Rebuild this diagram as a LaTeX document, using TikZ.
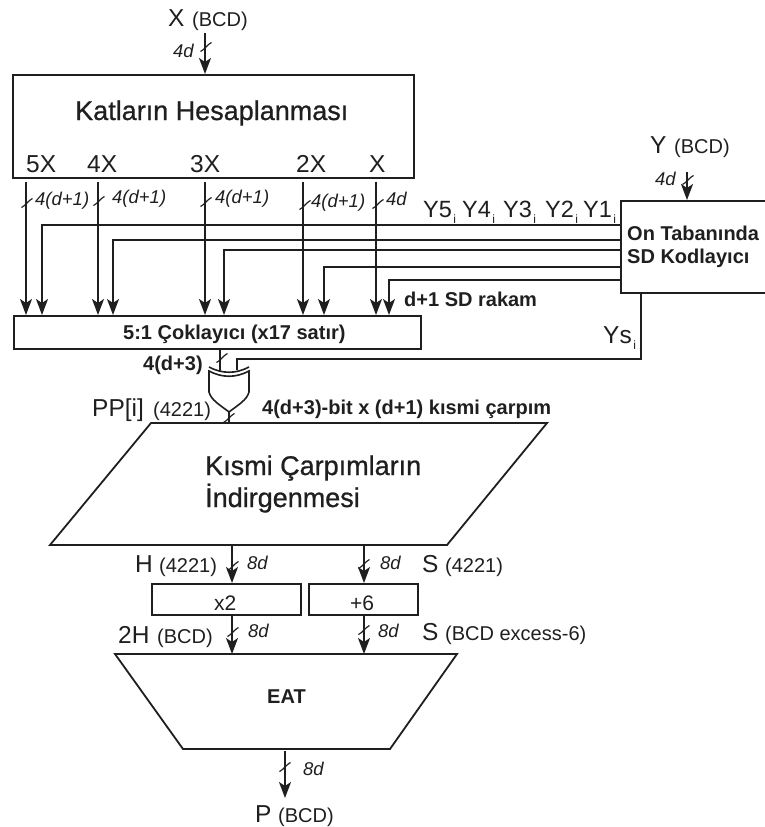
\documentclass[tikz,border=0pt]{standalone}
\usepackage{fontspec}
\setmainfont{Liberation Sans}
\newfontfamily\medfont[FakeBold=0.8]{Liberation Sans}
\usetikzlibrary{arrows.meta}
\definecolor{ink}{gray}{0.12}
\newcommand{\sz}[1]{\fontsize{#1}{#1}\selectfont}
\newcommand{\subi}{\kern1.5pt\raisebox{-6pt}{\sz{12}i}}
\newcommand{\busmark}[2]{\draw[mark line] ([shift={(-5.5,4.5)}]#1,#2) .. controls ([shift={(-2,3)}]#1,#2) and ([shift={(2,-3)}]#1,#2) .. ([shift={(5.5,-4.5)}]#1,#2);}
\tikzset{
  wire/.style={draw=ink,line width=1.7pt},
  arr/.style={wire,-{Stealth[length=16pt,width=12pt,inset=4pt]}},
  block/.style={draw=ink,line width=1.8pt,fill=white,inner sep=0pt},
  mark line/.style={draw=ink,line width=1.2pt},
  lab/.style={text=ink,inner sep=0pt,anchor=base west},
  busl/.style={lab,font=\sz{18.5}\itshape},
  sig/.style={lab,font=\sz{24.5}},
  ysig/.style={lab,font=\sz{23.5}},
  par/.style={lab,font=\sz{20}},
  boldl/.style={lab,font=\sz{20}\bfseries}
}
\begin{document}
\begin{tikzpicture}[x=1pt,y=-1pt]
\useasboundingbox (0,0) rectangle (765,827);
% blocks
\node[block,minimum width=401pt,minimum height=103pt,anchor=north west] (top) at (12,74) {};
\node[block,minimum width=407pt,minimum height=33pt,anchor=north west] (mux) at (13,315) {};
\node[block,minimum width=160pt,minimum height=92pt,anchor=north west] (coder) at (620,200) {};
\node[block,minimum width=149pt,minimum height=31pt,anchor=north west] (xtwo) at (151,583) {};
\node[block,minimum width=109pt,minimum height=31pt,anchor=north west] (psix) at (308,583) {};
\draw[block] (151,423) -- (547,423) -- (447,545) -- (50,545) -- cycle;
\draw[block] (115,654) -- (457,654) -- (390,749) -- (183,749) -- cycle;
\coordinate (pptop) at (229,423);
\coordinate (ppbot) at (232,545);
\coordinate (pptwo) at (364,545);
\coordinate (eatA) at (232,654);
\coordinate (eatB) at (364,654);
\coordinate (eatC) at (285,751);
% main texts
\node[lab,font=\sz{27}\medfont] (t1) at (75,120) {Katların Hesaplanması};
\node[lab,font=\sz{27}\medfont] (t2) at (205,475) {Kısmi Çarpımların};
\node[lab,font=\sz{27}\medfont] (t2b) at (205,507) {İndirgenmesi};
\node[lab,font=\sz{20}\bfseries] (t3) at (123,339) {5:1 Çoklayıcı (x17 satır)};
\node[lab,font=\sz{20}\bfseries] (t4a) at (627,240) {On Tabanında};
\node[lab,font=\sz{20}\bfseries] (t4b) at (627,263) {SD Kodlayıcı};
\node[lab,font=\sz{21}] (t5) at (214,610) {x2};
\node[lab,font=\sz{21}] (t6) at (350,610) {+6};
\node[lab,font=\sz{20}\bfseries] (t7) at (267,703) {EAT};
% top outputs labels
\node[sig] at (26,172) {5X};
\node[sig] at (87,172) {4X};
\node[sig] at (190,172) {3X};
\node[sig] at (296,172) {2X};
\node[sig] at (369,172) {X};
% x-input
\node[sig] (xin) at (168,26) {X};
\node[par] at (192,26) {(BCD)};
\node[busl] at (173,57) {4d};
\coordinate (xa) at (205,33);
\draw[arr] (xa) -- (xa |- top.north);
\busmark{206}{47}
% multiples
\coordinate (a5) at (26,0); \coordinate (a4) at (98,0); \coordinate (a3) at (205,0); \coordinate (a2) at (303,0); \coordinate (a1) at (376,0);
\foreach \n in {a5,a4,a3,a2,a1} \draw[arr] (\n |- top.south) ++(0,3) -- (\n |- mux.north);
\busmark{27}{203} \busmark{99}{201} \busmark{206}{202} \busmark{305}{205} \busmark{378}{204}
\node[busl] at (35,205) {4(d+1)};
\node[busl] at (112,203) {4(d+1)};
\node[busl] at (215,203) {4(d+1)};
\node[busl] at (311,207) {4(d+1)};
\node[busl] at (386,205) {4d};
% selection lines
\coordinate (b5) at (42,225); \coordinate (b4) at (113,240); \coordinate (b3) at (224,250); \coordinate (b2) at (324,267); \coordinate (b1) at (389,280);
\foreach \n in {b5,b4,b3,b2,b1} \draw[arr] (coder.west |- \n) -- (\n) -- (\n |- mux.north);
\node[ysig] at (423,217) {Y5\subi};
\node[ysig] at (462,217) {Y4\subi};
\node[ysig] at (503,217) {Y3\subi};
\node[ysig] at (545,217) {Y2\subi};
\node[ysig] at (583,217) {Y1\subi};
\node[boldl] at (404,306) {d+1 SD rakam};
% y input
\node[sig] at (650,153) {Y};
\node[par] at (674,153) {(BCD)};
\node[busl] at (655,185) {4d};
\coordinate (ya) at (687,172);
\draw[arr] (ya) -- (ya |- coder.north);
\busmark{688}{180}
% ys
\coordinate (ysa) at (641,292); \coordinate (ysb) at (237,359); \coordinate (ysc) at (237,370);
\draw[wire] (ysa) |- (ysb) -- (ysc);
\node[sig] at (603,343) {Ys\subi};
% xor
\coordinate (xorin) at (220,0);
\draw[wire] (xorin |- mux.south) -- (220,372);
\busmark{222}{358}
\draw[line width=1.6pt,draw=ink,fill=white] (209,371) .. controls (222,378) and (236,378) .. (249,371) -- (249,392) .. controls (247,400) and (238,405) .. (229,412) .. controls (220,405) and (211,400) .. (209,392) -- cycle;
\draw[line width=1.6pt,draw=ink] (209,367) .. controls (222,374) and (236,374) .. (249,367);
\draw[wire] (229,412) -- (pptop);
\busmark{229}{418}
\node[boldl] at (143,370) {4(d+3)};
\node[sig] at (92,416) {PP[i]};
\node[par] at (153,416) {(4221)};
\node[boldl] at (262,414) {4(d+3)-bit x (d+1) kısmi çarpım};
% adder outputs
\draw[arr] (ppbot) -- (ppbot |- xtwo.north);
\draw[arr] (pptwo) -- (pptwo |- psix.north);
\draw[arr] (ppbot |- xtwo.south) -- (eatA);
\draw[arr] (pptwo |- psix.south) -- (eatB);
\busmark{233}{566} \busmark{364}{564} \busmark{233}{632} \busmark{364}{630}
\node[busl] at (247,569) {8d};
\node[busl] at (380,569) {8d};
\node[busl] at (248,637) {8d};
\node[busl] at (378,637) {8d};
\node[sig] at (135,572) {H};
\node[par] at (159,572) {(4221)};
\node[sig] at (422,572) {S};
\node[par] at (445,572) {(4221)};
\node[sig] at (118,643) {2H};
\node[par] at (157,643) {(BCD)};
\node[sig] at (422,640) {S};
\node[par] at (445,640) {(BCD excess-6)};
% result
\draw[arr] (eatC) -- ++(0,47) coordinate (pout);
\busmark{285}{767}
\node[busl] at (303,775) {8d};
\node[sig] at (255,822) {P};
\node[par] at (278,822) {(BCD)};
\end{tikzpicture}
\end{document}
